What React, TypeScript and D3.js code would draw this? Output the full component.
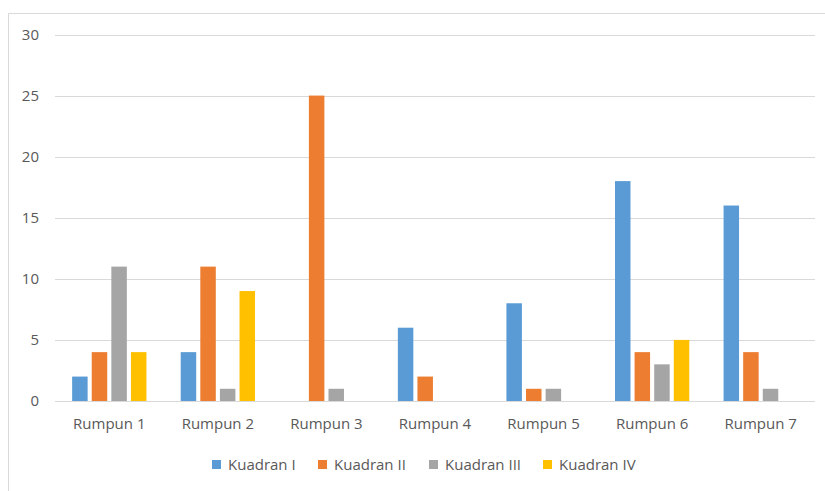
import { useRef, useEffect } from "react";
import * as d3 from "d3";

const categories = ["Rumpun 1", "Rumpun 2", "Rumpun 3", "Rumpun 4", "Rumpun 5", "Rumpun 6", "Rumpun 7"];
const seriesNames = ["Kuadran I", "Kuadran II", "Kuadran III", "Kuadran IV"];
const seriesColors = ["#5b9bd5", "#ed7d31", "#a5a5a5", "#ffc000"];
const kuadran1 = [2, 4, 0, 6, 8, 18, 16];
const kuadran2 = [4, 11, 25, 2, 1, 4, 4];
const kuadran3 = [11, 1, 1, 0, 1, 3, 1];
const kuadran4 = [4, 9, 0, 0, 0, 5, 0];
const yTicks = [0, 5, 10, 15, 20, 25, 30];

const App = () => {
  const svgRef = useRef(null);

  useEffect(() => {
    d3.select(svgRef.current).selectAll("*").remove();

    const width = 825;
    const height = 491;
    const left = 55;
    const right = 815;
    const top = 34.5;
    const bottom = 401;
    const groupWidth = 74.3;
    const font = "'Open Sans', 'Noto Sans', sans-serif";

    const svg = d3.select(svgRef.current).attr("width", width).attr("height", height);

    svg.append("rect").attr("width", width).attr("height", height).attr("fill", "white");

    // chart area frame (only top + left visible)
    svg
      .append("path")
      .attr("d", `M8.5,${height} L8.5,13.5 L${width},13.5`)
      .attr("fill", "none")
      .attr("stroke", "#d9d9d9");

    const y = d3.scaleLinear().domain([0, 30]).range([bottom, top]);
    const x = d3.scaleBand().domain(categories).range([left, right]);
    const inner = d3
      .scaleBand()
      .domain(seriesNames)
      .range([0, groupWidth])
      .paddingInner(0.21);

    svg
      .selectAll("line.grid")
      .data(yTicks)
      .enter()
      .append("line")
      .attr("x1", left)
      .attr("x2", right)
      .attr("y1", (d) => Math.round(y(d)) + 0.5)
      .attr("y2", (d) => Math.round(y(d)) + 0.5)
      .attr("stroke", "#d9d9d9")
      .attr("stroke-width", 1);

    svg
      .selectAll("text.ytick")
      .data(yTicks)
      .enter()
      .append("text")
      .attr("x", 39)
      .attr("y", (d) => y(d))
      .attr("dy", "0.35em")
      .attr("text-anchor", "end")
      .style("font-family", font)
      .style("font-size", "15px")
      .style("fill", "#595959")
      .text((d) => d);

    const allSeries = [kuadran1, kuadran2, kuadran3, kuadran4];
    const groupOffset = (x.bandwidth() - groupWidth) / 2;

    allSeries.forEach((values, si) => {
      svg
        .append("g")
        .selectAll("rect")
        .data(values)
        .enter()
        .append("rect")
        .attr("x", (d, i) => x(categories[i]) + groupOffset + inner(seriesNames[si]))
        .attr("y", (d) => y(d))
        .attr("width", inner.bandwidth())
        .attr("height", (d) => bottom - y(d))
        .attr("fill", seriesColors[si]);
    });

    svg
      .selectAll("text.xtick")
      .data(categories)
      .enter()
      .append("text")
      .attr("x", (d) => x(d) + x.bandwidth() / 2)
      .attr("y", 424)
      .attr("dy", "0.35em")
      .attr("text-anchor", "middle")
      .style("font-family", font)
      .style("font-size", "15px")
      .style("fill", "#595959")
      .text((d) => d);

    // legend
    const legendX = [212, 318, 429, 543];
    const legend = svg
      .selectAll("g.legend")
      .data(seriesNames)
      .enter()
      .append("g")
      .attr("transform", (d, i) => `translate(${legendX[i]},460)`);

    legend
      .append("rect")
      .attr("width", 9)
      .attr("height", 9)
      .attr("fill", (d, i) => seriesColors[i]);

    legend
      .append("text")
      .attr("x", 16)
      .attr("y", 4.5)
      .attr("dy", "0.35em")
      .style("font-family", font)
      .style("font-size", "15px")
      .style("fill", "#595959")
      .text((d) => d);
  }, []);

  return (
    <div style={{ position: "absolute", left: 0, top: 0 }}>
      <svg ref={svgRef} style={{ display: "block" }}></svg>
    </div>
  );
};

export default App;
